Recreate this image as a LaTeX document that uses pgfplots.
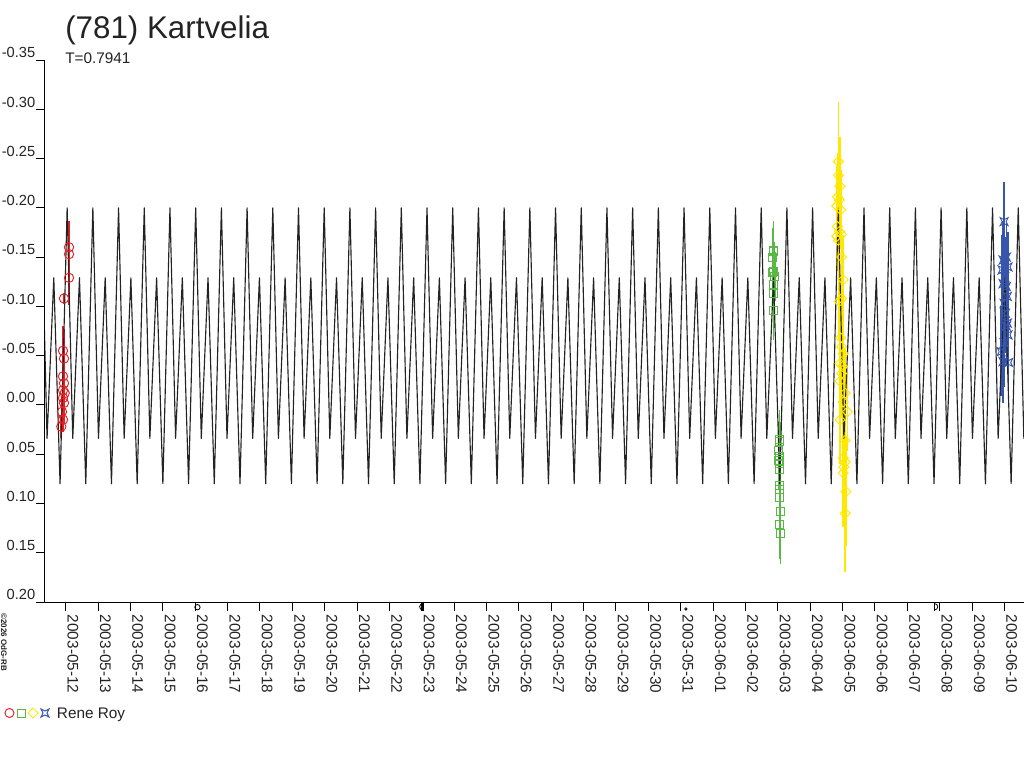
\documentclass[border=0pt]{standalone}
\usepackage{fontspec}
\setmainfont{Liberation Sans}
\usepackage{pgfplots}
\pgfplotsset{compat=1.18}
\usepackage{pgfplotstable}

\definecolor{cred}{RGB}{232,30,35}
\definecolor{cgreen}{RGB}{90,185,70}
\definecolor{cyellow}{RGB}{255,232,0}
\definecolor{cblue}{RGB}{55,85,170}
\definecolor{ccurve}{RGB}{35,35,35}
\definecolor{ctext}{RGB}{35,35,35}

\pgfdeclareplotmark{cstar}{%
  \pgfpathmoveto{\pgfqpoint{\pgfplotmarksize}{\pgfplotmarksize}}%
  \pgfpathlineto{\pgfqpoint{0pt}{0.5\pgfplotmarksize}}%
  \pgfpathlineto{\pgfqpoint{-\pgfplotmarksize}{\pgfplotmarksize}}%
  \pgfpathlineto{\pgfqpoint{-0.5\pgfplotmarksize}{0pt}}%
  \pgfpathlineto{\pgfqpoint{-\pgfplotmarksize}{-\pgfplotmarksize}}%
  \pgfpathlineto{\pgfqpoint{0pt}{-0.5\pgfplotmarksize}}%
  \pgfpathlineto{\pgfqpoint{\pgfplotmarksize}{-\pgfplotmarksize}}%
  \pgfpathlineto{\pgfqpoint{0.5\pgfplotmarksize}{0pt}}%
  \pgfpathclose\pgfusepathqstroke}

% fitted light curve (extrema of each cycle), x = days after 2003-05-12 0h
\pgfplotstableread[row sep=\\]{
x y\\
-0.749 -0.200\\ -0.576 0.034\\ -0.368 -0.129\\ -0.174 0.080\\
0.045 -0.200\\ 0.218 0.034\\ 0.426 -0.129\\ 0.620 0.080\\
0.839 -0.200\\ 1.012 0.034\\ 1.220 -0.129\\ 1.414 0.080\\
1.633 -0.200\\ 1.806 0.034\\ 2.014 -0.129\\ 2.208 0.080\\
2.427 -0.200\\ 2.600 0.034\\ 2.809 -0.129\\ 3.002 0.080\\
3.221 -0.200\\ 3.395 0.034\\ 3.603 -0.129\\ 3.796 0.080\\
4.016 -0.200\\ 4.189 0.034\\ 4.397 -0.129\\ 4.590 0.080\\
4.810 -0.200\\ 4.983 0.034\\ 5.191 -0.129\\ 5.385 0.080\\
5.604 -0.200\\ 5.777 0.034\\ 5.985 -0.129\\ 6.179 0.080\\
6.398 -0.200\\ 6.571 0.034\\ 6.779 -0.129\\ 6.973 0.080\\
7.192 -0.200\\ 7.365 0.034\\ 7.573 -0.129\\ 7.767 0.080\\
7.986 -0.200\\ 8.159 0.034\\ 8.367 -0.129\\ 8.561 0.080\\
8.780 -0.200\\ 8.953 0.034\\ 9.161 -0.129\\ 9.355 0.080\\
9.574 -0.200\\ 9.747 0.034\\ 9.955 -0.129\\ 10.149 0.080\\
10.368 -0.200\\ 10.541 0.034\\ 10.750 -0.129\\ 10.943 0.080\\
11.162 -0.200\\ 11.336 0.034\\ 11.544 -0.129\\ 11.737 0.080\\
11.957 -0.200\\ 12.130 0.034\\ 12.338 -0.129\\ 12.531 0.080\\
12.751 -0.200\\ 12.924 0.034\\ 13.132 -0.129\\ 13.326 0.080\\
13.545 -0.200\\ 13.718 0.034\\ 13.926 -0.129\\ 14.120 0.080\\
14.339 -0.200\\ 14.512 0.034\\ 14.720 -0.129\\ 14.914 0.080\\
15.133 -0.200\\ 15.306 0.034\\ 15.514 -0.129\\ 15.708 0.080\\
15.927 -0.200\\ 16.100 0.034\\ 16.308 -0.129\\ 16.502 0.080\\
16.721 -0.200\\ 16.894 0.034\\ 17.102 -0.129\\ 17.296 0.080\\
17.515 -0.200\\ 17.688 0.034\\ 17.896 -0.129\\ 18.090 0.080\\
18.309 -0.200\\ 18.482 0.034\\ 18.691 -0.129\\ 18.884 0.080\\
19.103 -0.200\\ 19.277 0.034\\ 19.485 -0.129\\ 19.678 0.080\\
19.898 -0.200\\ 20.071 0.034\\ 20.279 -0.129\\ 20.472 0.080\\
20.692 -0.200\\ 20.865 0.034\\ 21.073 -0.129\\ 21.267 0.080\\
21.486 -0.200\\ 21.659 0.034\\ 21.867 -0.129\\ 22.061 0.080\\
22.280 -0.200\\ 22.453 0.034\\ 22.661 -0.129\\ 22.855 0.080\\
23.074 -0.200\\ 23.247 0.034\\ 23.455 -0.129\\ 23.649 0.080\\
23.868 -0.200\\ 24.041 0.034\\ 24.249 -0.129\\ 24.443 0.080\\
24.662 -0.200\\ 24.835 0.034\\ 25.043 -0.129\\ 25.237 0.080\\
25.456 -0.200\\ 25.629 0.034\\ 25.837 -0.129\\ 26.031 0.080\\
26.250 -0.200\\ 26.423 0.034\\ 26.632 -0.129\\ 26.825 0.080\\
27.044 -0.200\\ 27.218 0.034\\ 27.426 -0.129\\ 27.619 0.080\\
27.839 -0.200\\ 28.012 0.034\\ 28.220 -0.129\\ 28.413 0.080\\
28.633 -0.200\\ 28.806 0.034\\ 29.014 -0.129\\ 29.207 0.080\\
29.427 -0.200\\ 29.600 0.034\\ 29.808 -0.129\\
}\curvetab

\pgfplotstableread[row sep=\\]{
x y e\\
-0.136 0.022 0.012\\
-0.083 0.015 0.012\\
-0.114 0.007 0.015\\
-0.053 -0.002 0.020\\
-0.083 -0.007 0.020\\
-0.031 -0.012 0.020\\
-0.083 -0.015 0.025\\
-0.053 -0.022 0.030\\
-0.083 -0.029 0.035\\
-0.053 -0.047 0.030\\
-0.083 -0.055 0.025\\
-0.053 -0.108 0.006\\
0.102 -0.129 0.028\\
0.102 -0.153 0.020\\
0.102 -0.160 0.027\\
}\redtab

\pgfplotstableread[row sep=\\]{
x y e\\
21.86 -0.157 0.030\\
21.87 -0.156 0.025\\
21.84 -0.150 0.030\\
21.88 -0.135 0.030\\
21.84 -0.134 0.030\\
21.91 -0.130 0.025\\
21.86 -0.122 0.030\\
21.88 -0.113 0.035\\
21.86 -0.096 0.030\\
22.05 0.035 0.030\\
22.06 0.037 0.020\\
22.02 0.046 0.030\\
22.05 0.052 0.025\\
22.02 0.056 0.030\\
22.06 0.059 0.025\\
22.05 0.066 0.025\\
22.05 0.082 0.030\\
22.06 0.086 0.030\\
22.06 0.094 0.030\\
22.08 0.108 0.035\\
22.06 0.121 0.035\\
22.08 0.130 0.031\\
}\greentab

\pgfplotstableread[row sep=\\]{
x y e\\
23.87 -0.247 0.060\\
23.87 -0.233 0.050\\
23.92 -0.222 0.050\\
23.84 -0.211 0.045\\
23.90 -0.208 0.040\\
23.82 -0.202 0.040\\
23.94 -0.198 0.040\\
23.84 -0.181 0.040\\
23.90 -0.176 0.040\\
23.82 -0.171 0.035\\
23.97 -0.173 0.040\\
23.87 -0.167 0.040\\
23.97 -0.150 0.040\\
24.02 -0.127 0.045\\
23.97 -0.108 0.040\\
23.90 -0.105 0.040\\
23.94 -0.068 0.045\\
23.97 -0.059 0.040\\
24.02 -0.052 0.040\\
23.92 -0.042 0.045\\
24.00 -0.039 0.040\\
23.97 -0.032 0.045\\
23.92 -0.024 0.040\\
24.08 -0.012 0.045\\
24.02 -0.003 0.045\\
24.15 0.007 0.040\\
23.92 0.015 0.045\\
24.08 0.036 0.050\\
24.02 0.054 0.050\\
24.08 0.058 0.050\\
24.04 0.063 0.050\\
24.02 0.069 0.055\\
24.10 0.088 0.055\\
24.08 0.110 0.060\\
}\yellowtab

\pgfplotstableread[row sep=\\]{
x y e\\
28.99 -0.186 0.040\\
28.96 -0.147 0.040\\
29.06 -0.150 0.035\\
29.11 -0.140 0.035\\
28.93 -0.137 0.035\\
29.01 -0.130 0.040\\
28.96 -0.123 0.040\\
29.06 -0.120 0.040\\
29.09 -0.110 0.040\\
28.99 -0.103 0.040\\
29.03 -0.093 0.040\\
29.06 -0.080 0.040\\
29.09 -0.083 0.040\\
29.11 -0.071 0.040\\
28.99 -0.063 0.045\\
28.90 -0.054 0.045\\
28.96 -0.044 0.042\\
29.13 -0.043 0.040\\
}\bluetab

\begin{document}
\begin{tikzpicture}
\path[use as bounding box] (0pt,0pt) rectangle (768pt,576pt);
\begin{axis}[
  at={(33.75pt,124.5pt)}, anchor=south west,
  scale only axis, width=734.25pt, height=406.5pt,
  xmin=-0.6395, xmax=29.605,
  ymin=-0.35, ymax=0.20, y dir=reverse,
  axis x line*=bottom, axis y line*=left,
  axis line style={-, line width=0.75pt, black},
  tick align=outside, major tick length=6.5pt,
  tick style={line width=0.75pt, black},
  xtick={0,1,...,29},
  xticklabels={2003-05-12,2003-05-13,2003-05-14,2003-05-15,2003-05-16,2003-05-17,2003-05-18,2003-05-19,2003-05-20,2003-05-21,2003-05-22,2003-05-23,2003-05-24,2003-05-25,2003-05-26,2003-05-27,2003-05-28,2003-05-29,2003-05-30,2003-05-31,2003-06-01,2003-06-02,2003-06-03,2003-06-04,2003-06-05,2003-06-06,2003-06-07,2003-06-08,2003-06-09,2003-06-10},
  ytick={-0.35,-0.3,-0.25,-0.2,-0.15,-0.1,-0.05,0,0.05,0.1,0.15,0.2},
  yticklabels={-0.35,-0.30,-0.25,-0.20,-0.15,-0.10,-0.05,0.00,0.05,0.10,0.15,0.20},
  xticklabel style={font=\fontsize{11.5}{13}\selectfont, text=ctext, rotate=-90, anchor=base west, inner sep=0pt, xshift=3pt, yshift=1.5pt},
  yticklabel style={font=\fontsize{11}{13}\selectfont, text=ctext, anchor=base east, inner sep=0pt, xshift=-0.6pt, yshift=1.6pt},
]
\addplot[only marks, mark=o, mark size=3.5pt, cred, mark options={line width=0.7pt},
  error bars/.cd, y dir=both, y explicit, error mark=none,
  error bar style={line width=1.2pt, cred}]
  table[x=x, y=y, y error=e] {\redtab};
\addplot[only marks, mark=square, mark size=3pt, cgreen, mark options={line width=0.7pt},
  error bars/.cd, y dir=both, y explicit, error mark=none,
  error bar style={line width=1.2pt, cgreen}]
  table[x=x, y=y, y error=e] {\greentab};
\addplot[only marks, mark=square, mark size=2.65pt, cyellow, mark options={line width=0.7pt, rotate=45},
  error bars/.cd, y dir=both, y explicit, error mark=none,
  error bar style={line width=1.3pt, cyellow}]
  table[x=x, y=y, y error=e] {\yellowtab};
\addplot[only marks, mark=cstar, mark size=3pt, cblue, mark options={line width=0.7pt},
  error bars/.cd, y dir=both, y explicit, error mark=none,
  error bar style={line width=1.2pt, cblue}]
  table[x=x, y=y, y error=e] {\bluetab};
\addplot[sharp plot, no marks, ccurve, line width=0.85pt, line join=round]
  table[x=x, y=y] {\curvetab};
\coordinate (m1) at (axis cs:4.07,0.2);
\coordinate (m2) at (axis cs:10.98,0.2);
\coordinate (m3) at (axis cs:19.16,0.2);
\coordinate (m4) at (axis cs:26.88,0.2);
\end{axis}
% observer key
\begin{scope}[line width=0.7pt]
\draw[cred] (7.1pt,41.25pt) circle[radius=3.4pt];
\draw[cgreen] (12.75pt,38.25pt) rectangle (18.75pt,44.25pt);
\draw[cyellow] (24.75pt,45pt) -- (28.5pt,41.25pt) -- (24.75pt,37.5pt) -- (21pt,41.25pt) -- cycle;
\draw[cblue] (36.75pt,44.25pt) -- (33.75pt,42.75pt) -- (30.75pt,44.25pt) -- (32.25pt,41.25pt) -- (30.75pt,38.25pt) -- (33.75pt,39.75pt) -- (36.75pt,38.25pt) -- (35.25pt,41.25pt) -- cycle;
\end{scope}
\node[anchor=base west, inner sep=0pt, font=\fontsize{11.5}{13}\selectfont, text=ctext] at (42.5pt,37.25pt) {Rene Roy};
% moon phases
\draw[line width=0.6pt, black] (m1) ++(0,-3.9pt) circle[radius=2pt];
\draw[line width=0.6pt, black] (m2) ++(1.2pt,-1.3pt) arc[start angle=90, end angle=270, radius=2.3pt];
\draw[line width=1pt, black] (m2) ++(1.4pt,-0.9pt) -- ++(0,-5.6pt);
\draw[line width=0.6pt, black] (m3) ++(0,-5.2pt) circle[radius=0.9pt];
\draw[line width=0.6pt, black] (m4) ++(-0.8pt,-1.3pt) arc[start angle=90, end angle=-90, radius=2.3pt];
\draw[line width=1pt, black] (m4) ++(-1pt,-0.9pt) -- ++(0,-5.6pt);
% title
\node[anchor=base west, inner sep=0pt, font=\fontsize{23.5}{28}\selectfont, text=ctext] at (48.75pt,547pt) {(781) Kartvelia};
\node[anchor=base west, inner sep=0pt, font=\fontsize{11.5}{13}\selectfont, text=ctext] at (48.75pt,528.5pt) {T=0.7941};
\node[rotate=-90, anchor=south west, inner sep=0pt, font=\bfseries\fontsize{6}{7}\selectfont, text=ctext] at (0.6pt,116pt) {©2026 OdG-RB};
\end{tikzpicture}
\end{document}
